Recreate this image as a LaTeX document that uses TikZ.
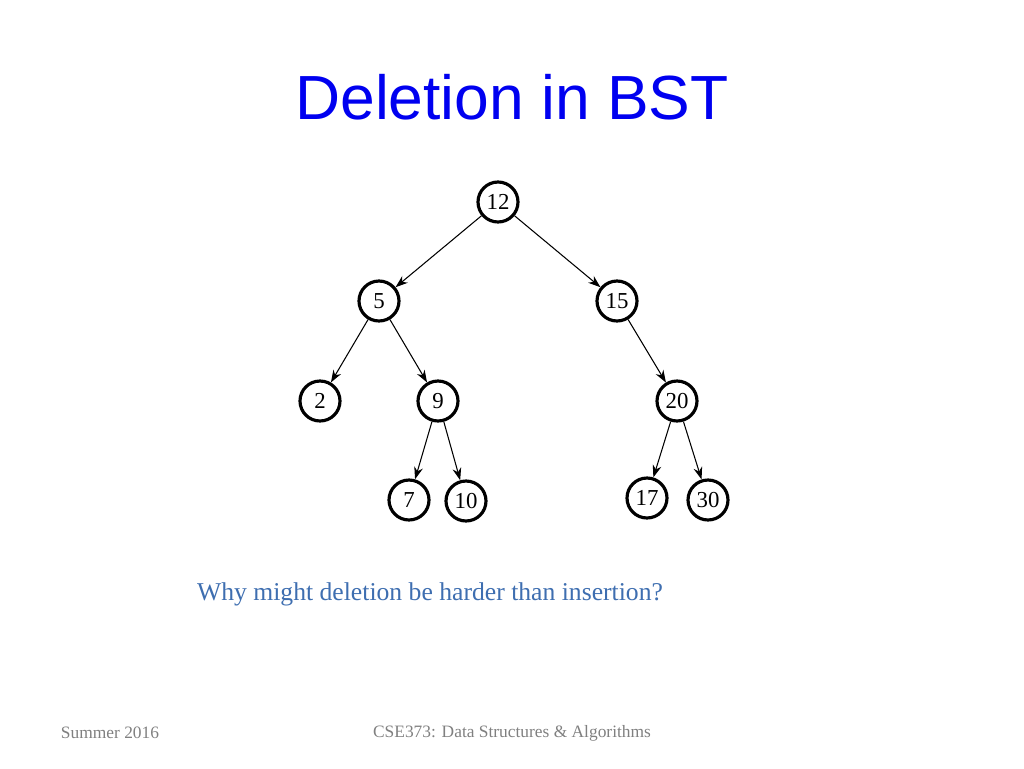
\documentclass[tikz,border=0pt]{standalone}
\usepackage{fontspec}
\setmainfont{Liberation Serif}
\newfontfamily\titlefont{Liberation Sans}
\usetikzlibrary{arrows.meta}
\definecolor{titleblue}{RGB}{0,0,240}
\definecolor{askblue}{RGB}{62,110,176}
\tikzset{
  key/.style={circle, draw=black, line width=1.8pt, fill=white, minimum size=0.8cm, inner sep=0pt, font=\fontsize{13}{15}\selectfont},
  edge/.style={-{Stealth[length=7pt,width=5pt]}, line width=0.6pt}
}
\begin{document}
\begin{tikzpicture}[x=0.02cm, y=-0.02cm]
    \useasboundingbox (0,0) rectangle (1024,768);
    % Titolo
    \node[font=\titlefont\fontsize{35.5}{40}\selectfont, text=titleblue] (title) at (512,97) {Deletion in BST};
    % Nodi
    \node[key] (n12) at (498,202) {12};
    \node[key] (n5) at (379,301) {5};
    \node[key] (n15) at (617,301) {15};
    \node[key] (n2) at (320,401) {2};
    \node[key] (n9) at (438,401) {9};
    \node[key] (n20) at (677,401) {20};
    \node[key] (n7) at (409,500) {7};
    \node[key] (n10) at (466,501) {10};
    \node[key] (n17) at (647,498) {17};
    \node[key] (n30) at (708,500) {30};
    % Archi
    \draw[edge] (n12) -- (n5);
    \draw[edge] (n12) -- (n15);
    \draw[edge] (n5) -- (n2);
    \draw[edge] (n5) -- (n9);
    \draw[edge] (n15) -- (n20);
    \draw[edge] (n9) -- (n7);
    \draw[edge] (n9) -- (n10);
    \draw[edge] (n20) -- (n17);
    \draw[edge] (n20) -- (n30);
    % Domanda e piè di pagina
    \node[font=\fontsize{14.6}{17}\selectfont, text=askblue] (ask) at (430,594) {Why might deletion be harder than insertion?};
    \node[font=\fontsize{9.9}{12}\selectfont, text=gray] (foot1) at (110,733) {Summer 2016};
    \node[font=\fontsize{9.9}{12}\selectfont, text=gray] (foot2) at (512,733) {CSE373: Data Structures \& Algorithms};
\end{tikzpicture}
\end{document}
